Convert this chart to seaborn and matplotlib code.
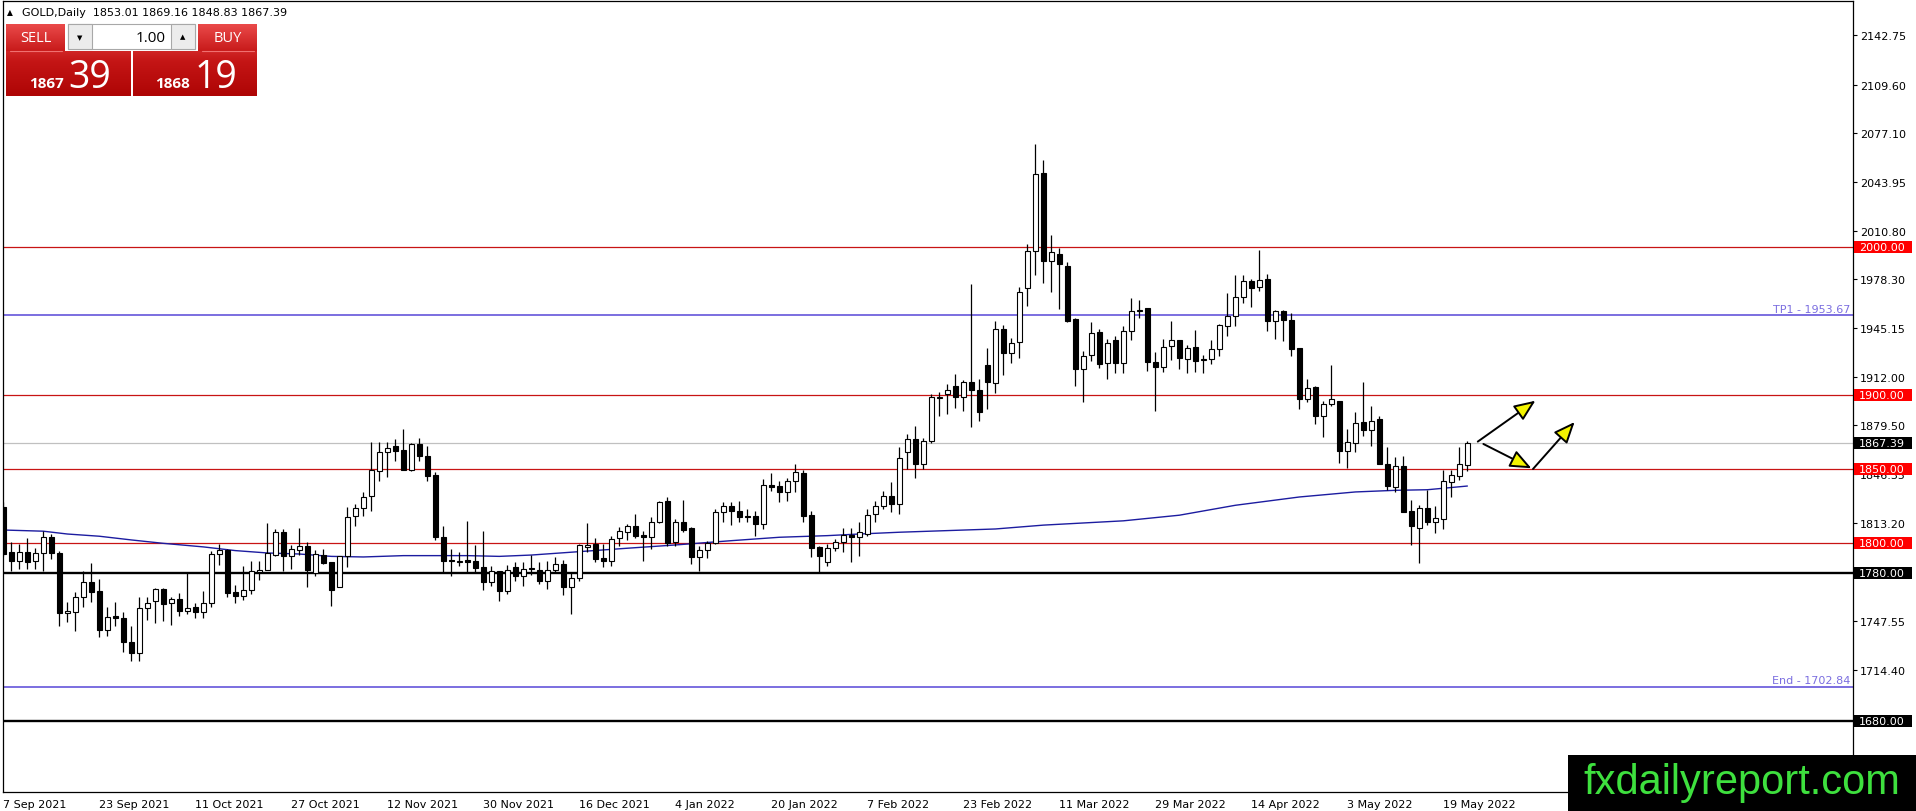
import numpy as np
import pandas as pd
import matplotlib
matplotlib.use('Agg')
import matplotlib.pyplot as plt
import seaborn as sns
from matplotlib.patches import Rectangle, FancyArrowPatch
from matplotlib.colors import LinearSegmentedColormap

# ── 1. DATA ───────────────────────────────────────────────
opens = [1824.2, 1793.8, 1788.1, 1793.8, 1788.1, 1793.3, 1804.3, 1793.1, 1752.6, 1753.3,
         1763.4, 1773.5, 1767.4, 1741.6, 1750.6, 1749.2, 1733.0, 1725.6, 1756.0, 1761.1,
         1769.0, 1759.3, 1762.0, 1754.4, 1756.6, 1753.3, 1759.3, 1792.3, 1795.3, 1766.8,
         1764.1, 1768.6, 1780.7, 1781.9, 1792.0, 1807.3, 1791.5, 1795.3, 1798.0, 1779.8,
         1792.0, 1787.0, 1770.1, 1791.0, 1818.0, 1823.5, 1831.6, 1848.5, 1861.3, 1865.3,
         1862.9, 1849.6, 1866.9, 1858.6, 1846.0, 1803.9, 1788.5, 1787.5, 1788.6, 1787.7,
         1783.6, 1774.0, 1781.0, 1767.9, 1783.6, 1777.6, 1782.5, 1782.1, 1774.6, 1782.1,
         1785.9, 1770.1, 1776.2, 1797.6, 1799.4, 1789.7, 1788.1, 1803.2, 1807.3, 1811.3,
         1805.5, 1803.9, 1814.5, 1828.2, 1800.5, 1814.0, 1810.0, 1790.4, 1795.6, 1800.0,
         1820.8, 1825.3, 1821.9, 1818.5, 1818.5, 1812.9, 1839.5, 1838.8, 1834.3, 1842.2,
         1847.3, 1819.0, 1797.1, 1787.5, 1796.5, 1800.5, 1805.7, 1803.9, 1806.1, 1819.7,
         1825.3, 1832.0, 1826.4, 1861.7, 1870.3, 1853.4, 1869.2, 1897.8, 1900.7, 1905.9,
         1898.4, 1909.0, 1903.6, 1920.3, 1908.3, 1944.5, 1928.4, 1935.8, 1972.0, 1997.3,
         2049.9, 1990.4, 1995.5, 1987.0, 1951.2, 1917.2, 1927.3, 1942.5, 1921.7, 1936.9,
         1921.3, 1943.0, 1957.0, 1958.6, 1922.4, 1919.0, 1932.9, 1937.4, 1924.4, 1932.4,
         1923.3, 1924.4, 1931.1, 1946.3, 1953.0, 1966.0, 1977.2, 1973.2, 1978.1, 1949.7,
         1957.0, 1950.3, 1931.8, 1897.5, 1905.4, 1885.5, 1894.2, 1896.0, 1862.4, 1867.6,
         1881.9, 1876.5, 1883.7, 1853.5, 1837.8, 1851.9, 1821.7, 1810.3, 1823.7, 1814.3,
         1816.1, 1841.2, 1845.6, 1853.01]
highs = [1827.5, 1801.0, 1799.4, 1803.5, 1796.5, 1808.0, 1806.0, 1794.9, 1760.5, 1766.8,
         1781.4, 1786.6, 1775.8, 1756.6, 1760.0, 1753.7, 1744.3, 1763.4, 1763.8, 1769.5,
         1769.5, 1763.8, 1766.1, 1780.0, 1759.6, 1767.9, 1794.9, 1799.4, 1796.0, 1771.7,
         1784.8, 1788.1, 1788.1, 1813.6, 1809.5, 1809.5, 1798.7, 1810.4, 1800.5, 1795.6,
         1796.0, 1787.5, 1791.5, 1824.2, 1826.4, 1834.3, 1868.0, 1868.5, 1868.5, 1870.3,
         1877.0, 1867.4, 1871.0, 1865.3, 1847.8, 1811.8, 1796.0, 1794.2, 1814.7, 1798.7,
         1808.0, 1784.8, 1781.4, 1785.2, 1787.0, 1787.0, 1792.0, 1787.5, 1788.1, 1790.4,
         1788.8, 1779.8, 1799.4, 1813.6, 1803.2, 1799.4, 1805.0, 1810.6, 1812.9, 1819.7,
         1808.4, 1817.4, 1828.7, 1830.9, 1816.3, 1829.1, 1810.6, 1798.3, 1801.6, 1823.0,
         1827.5, 1827.5, 1828.2, 1823.0, 1821.9, 1843.3, 1847.3, 1842.2, 1843.7, 1853.4,
         1849.4, 1821.9, 1798.3, 1799.4, 1802.8, 1810.0, 1810.0, 1814.0, 1823.0, 1828.7,
         1835.4, 1841.0, 1865.1, 1873.7, 1878.9, 1870.7, 1900.7, 1902.3, 1907.4, 1914.2,
         1910.1, 1975.0, 1910.8, 1931.7, 1949.7, 1947.4, 1938.5, 1973.2, 2002.2, 2069.4,
         2058.6, 2008.3, 1998.9, 1989.5, 1951.9, 1929.5, 1949.2, 1944.7, 1937.8, 1939.6,
         1946.8, 1965.3, 1964.2, 1958.6, 1928.9, 1937.8, 1949.7, 1937.4, 1934.0, 1944.1,
         1927.3, 1937.4, 1947.9, 1968.7, 1981.0, 1981.0, 1978.3, 1997.8, 1981.4, 1957.5,
         1957.5, 1955.3, 1931.8, 1911.0, 1906.0, 1896.0, 1919.9, 1896.0, 1877.0, 1888.6,
         1909.0, 1892.6, 1885.9, 1864.7, 1857.9, 1858.6, 1828.9, 1826.0, 1835.6, 1825.0,
         1849.0, 1849.0, 1864.7, 1869.16]
lows = [1791.5, 1781.4, 1782.5, 1782.5, 1782.5, 1781.4, 1789.3, 1744.3, 1746.5, 1740.9,
        1757.1, 1760.5, 1736.8, 1737.5, 1743.8, 1726.7, 1720.6, 1720.6, 1748.1, 1746.1,
        1747.6, 1744.7, 1751.0, 1752.1, 1749.2, 1749.4, 1757.1, 1785.4, 1763.8, 1759.3,
        1761.6, 1765.6, 1775.1, 1781.9, 1791.5, 1781.0, 1782.5, 1792.0, 1770.6, 1778.0,
        1785.9, 1757.8, 1770.1, 1784.1, 1811.8, 1818.5, 1821.9, 1842.2, 1844.4, 1855.7,
        1849.6, 1848.9, 1855.7, 1842.2, 1802.1, 1780.3, 1777.6, 1784.8, 1780.3, 1779.6,
        1768.6, 1771.3, 1761.1, 1765.6, 1774.6, 1771.2, 1778.5, 1772.4, 1769.0, 1780.3,
        1765.0, 1752.1, 1774.6, 1794.2, 1787.5, 1784.1, 1784.8, 1798.3, 1802.3, 1803.2,
        1788.1, 1796.0, 1813.6, 1798.3, 1798.3, 1807.3, 1785.9, 1781.4, 1789.7, 1799.4,
        1814.0, 1812.2, 1814.0, 1814.0, 1805.0, 1809.5, 1835.4, 1828.0, 1828.7, 1834.3,
        1814.5, 1790.4, 1780.3, 1784.8, 1794.9, 1793.8, 1787.5, 1791.5, 1805.0, 1814.5,
        1823.0, 1820.8, 1819.7, 1850.0, 1843.7, 1850.0, 1867.6, 1886.0, 1887.2, 1891.0,
        1889.4, 1878.2, 1882.7, 1890.5, 1901.6, 1913.2, 1921.7, 1925.0, 1960.2, 1981.0,
        1975.4, 1969.8, 1958.2, 1949.0, 1906.0, 1894.9, 1922.8, 1918.3, 1910.5, 1915.0,
        1915.0, 1936.9, 1951.9, 1916.1, 1889.3, 1915.4, 1923.9, 1917.7, 1915.0, 1915.4,
        1915.0, 1920.6, 1926.6, 1939.6, 1946.3, 1962.4, 1959.7, 1970.2, 1943.0, 1938.0,
        1936.2, 1926.2, 1890.8, 1894.9, 1880.3, 1871.4, 1892.2, 1853.9, 1850.6, 1861.3,
        1872.5, 1865.8, 1853.5, 1835.6, 1834.5, 1821.0, 1798.7, 1786.4, 1812.1, 1806.5,
        1809.8, 1831.0, 1842.3, 1848.83]
closes = [1792.6, 1788.1, 1793.8, 1787.0, 1793.1, 1803.9, 1793.1, 1752.6, 1754.0, 1763.4,
          1773.5, 1767.2, 1741.6, 1749.9, 1749.2, 1733.0, 1725.6, 1756.0, 1759.3, 1769.0,
          1758.9, 1762.0, 1754.4, 1756.0, 1753.3, 1759.3, 1792.6, 1795.3, 1766.3, 1764.1,
          1768.6, 1781.0, 1782.1, 1793.1, 1807.3, 1791.5, 1796.0, 1798.0, 1781.9, 1792.6,
          1786.6, 1768.6, 1791.0, 1817.4, 1823.5, 1830.9, 1849.6, 1861.3, 1864.0, 1862.4,
          1849.6, 1866.9, 1858.6, 1845.5, 1803.9, 1788.1, 1788.0, 1788.1, 1787.0, 1783.2,
          1773.5, 1781.0, 1767.9, 1782.1, 1777.6, 1782.5, 1782.7, 1774.6, 1782.1, 1785.9,
          1770.1, 1776.2, 1798.7, 1798.7, 1789.3, 1788.1, 1802.8, 1807.9, 1811.3, 1805.0,
          1803.9, 1814.0, 1827.5, 1800.1, 1814.0, 1809.0, 1790.4, 1795.6, 1800.1, 1820.8,
          1825.3, 1821.9, 1817.4, 1817.4, 1812.9, 1839.5, 1837.7, 1834.3, 1842.2, 1847.8,
          1818.5, 1796.5, 1791.1, 1796.7, 1800.5, 1805.7, 1803.9, 1807.3, 1819.2, 1825.3,
          1832.0, 1826.4, 1857.5, 1870.3, 1853.4, 1869.2, 1898.4, 1898.7, 1903.6, 1898.4,
          1908.6, 1903.6, 1888.8, 1908.6, 1944.5, 1928.0, 1935.1, 1969.8, 1997.3, 2049.2,
          1990.6, 1996.2, 1988.1, 1949.7, 1917.2, 1926.2, 1941.8, 1921.0, 1935.1, 1921.3,
          1943.0, 1957.0, 1957.5, 1922.4, 1919.0, 1932.4, 1936.9, 1925.0, 1931.8, 1922.8,
          1924.4, 1931.1, 1947.4, 1953.0, 1966.0, 1977.2, 1972.5, 1977.6, 1949.7, 1957.0,
          1950.3, 1931.1, 1897.5, 1904.9, 1885.5, 1894.2, 1897.1, 1862.4, 1868.0, 1881.0,
          1876.5, 1882.6, 1853.5, 1838.3, 1851.9, 1821.0, 1811.4, 1823.7, 1814.3, 1816.6,
          1841.8, 1846.1, 1853.5, 1867.39]

date_labels = ['7 Sep 2021', '23 Sep 2021', '11 Oct 2021', '27 Oct 2021', '12 Nov 2021',
               '30 Nov 2021', '16 Dec 2021', '4 Jan 2022', '20 Jan 2022', '7 Feb 2022',
               '23 Feb 2022', '11 Mar 2022', '29 Mar 2022', '14 Apr 2022', '3 May 2022',
               '19 May 2022']

# moving average, sampled along the blue line
ma_bar = [0, 5, 8, 12, 16, 20, 25, 29, 33, 37, 41, 45, 50, 54, 58, 62, 66, 72, 78, 84,
          91, 97, 103, 107, 112, 118, 124, 130, 140, 147, 154, 162, 169, 174, 178, 183]
ma_val = [1808.8, 1808.0, 1806.1, 1804.6, 1802.1, 1799.8, 1797.4, 1794.9, 1793.3, 1792.6,
          1791.0, 1790.6, 1791.5, 1791.5, 1791.5, 1791.0, 1791.9, 1794.2, 1796.5, 1798.7,
          1801.6, 1803.9, 1805.0, 1806.1, 1807.3, 1808.4, 1809.5, 1812.1, 1815.0, 1818.8,
          1825.5, 1831.1, 1834.5, 1835.6, 1836.0, 1838.5]

price_ticks = [2142.75, 2109.60, 2077.10, 2043.95, 2010.80, 1978.30, 1945.15, 1912.00,
               1879.50, 1846.35, 1813.20, 1780.00, 1747.55, 1714.40]

red_levels = [2000.00, 1900.00, 1850.00, 1800.00]
black_levels = [1780.00, 1680.00]
blue_levels = [1953.67, 1702.84]
blue_names = ['TP1', 'End']
bid = 1867.39
ask = 1868.19
header_values = ['1853.01', '1869.16', '1848.83', '1867.39']

# hand-drawn arrows: (start bar, start price, end bar, end price)
arrow_x0 = [184.3, 185.0, 191.2]
arrow_y0 = [1868.5, 1866.9, 1850.0]
arrow_x1 = [191.5, 191.0, 196.4]
arrow_y1 = [1896.1, 1850.5, 1881.7]

# ── 2. SETUP ──────────────────────────────
sns.set_theme(style='white')
plt.rcParams['font.family'] = ['DejaVu Sans']

W, H = 1916, 812
PL, PR, PT, PB = 3, 1853, 2, 793          # plot box in pixels
fig = plt.figure(figsize=(W / 100, H / 100), dpi=100)
fig.patch.set_facecolor('white')
ax = fig.add_axes([PL / W, 1 - PB / H, (PR - PL) / W, (PB - PT) / H])
ax.set_facecolor('white')

df = pd.DataFrame({'open': opens, 'high': highs, 'low': lows, 'close': closes})
df['bar'] = np.arange(len(df))
up = df['close'] >= df['open']

# ── 3. LEVELS + MA ────────────────────────
for lv in red_levels:
    ax.axhline(lv, color='#c81414', lw=0.9, zorder=1)
for lv in black_levels:
    ax.axhline(lv, color='black', lw=1.7, zorder=1)
for lv in blue_levels:
    ax.axhline(lv, color='#7b6ee0', lw=1.4, zorder=1)
ax.axhline(bid, color='#c0c0c0', lw=0.9, zorder=1)

sns.lineplot(x=ma_bar, y=ma_val, ax=ax, color='#1c1ca0', lw=1.0, zorder=2)

# ── 4. CANDLES ────────────────────────────
ax.vlines(df['bar'], df['low'], df['high'], color='black', lw=0.9, zorder=3)
body_lo = df[['open', 'close']].min(axis=1)
body_h = (df['close'] - df['open']).abs().clip(lower=0.5)
ax.bar(df['bar'], body_h, bottom=body_lo, width=0.56,
       color=np.where(up, 'white', 'black'), edgecolor='black', linewidth=0.8, zorder=4)

for sx, sy, ex, ey in zip(arrow_x0, arrow_y0, arrow_x1, arrow_y1):
    ax.add_patch(FancyArrowPatch((sx, sy), (ex, ey),
                                 arrowstyle='-|>,head_length=1.0,head_width=0.42',
                                 mutation_scale=13, facecolor='#f4f400', edgecolor='black',
                                 lw=1.4, shrinkA=0, shrinkB=0, zorder=6))

# ── 5. AXES ───────────────────────────────
ax.set_xlim(-0.04, 231.2)
ax.set_ylim(1631.9, 2166.0)
ax.yaxis.tick_right()
ax.set_yticks(price_ticks)
ax.set_yticklabels([f'{p:.2f}' for p in price_ticks])
ax.set_xticks(range(0, 12 * len(date_labels), 12))
ax.set_xticklabels(date_labels, ha='left')
ax.tick_params(axis='both', direction='out', length=3, width=0.8, color='black',
               labelsize=8, labelcolor='black', pad=2)
ax.set_xlabel('')
ax.set_ylabel('')
for s in ax.spines.values():
    s.set_color('black')
    s.set_linewidth(0.9)

# price tags on the right scale
ppx = (PB - PT) / (2166.0 - 1631.9)       # pixels per dollar
tag_w = 58 / (PR - PL)
tag_h = 12 / ppx
yt = ax.get_yaxis_transform()
tags = [(lv, '#ff0000') for lv in red_levels] + [(lv, 'black') for lv in black_levels] + [(bid, 'black')]
for lv, col in tags:
    ax.add_patch(Rectangle((1.0 + 1 / (PR - PL), lv - tag_h / 2), tag_w, tag_h, transform=yt,
                           facecolor=col, edgecolor='none', clip_on=False, zorder=7))
    ax.text(1.0 + 6 / (PR - PL), lv, f'{lv:.2f}', transform=yt, ha='left', va='center',
            color='white', fontsize=8, clip_on=False, zorder=8)

for lv, name in zip(blue_levels, blue_names):
    ax.text(1.0 - 3 / (PR - PL), lv + 1.2, f'{name} - {lv:.2f}', transform=yt,
            ha='right', va='bottom', color='#7b6ee0', fontsize=8, zorder=5)

# ── 6. TRADE PANEL / HEADER / LOGO ────────
ov = fig.add_axes([0, 0, 1, 1], zorder=10)
ov.set_axis_off()
ov.patch.set_alpha(0)

ov.text(7, 13, '▲', fontsize=5.5, ha='left', va='center', color='black')
ov.text(22, 13, 'GOLD,Daily  ' + ' '.join(header_values), fontsize=8, ha='left',
        va='center', color='black')

red_cm = LinearSegmentedColormap.from_list('panel', ['#ea4a4a', '#c41515', '#ae0505'])
grad = np.linspace(0, 1, 64).reshape(-1, 1)


def red_box(x0, x1, y0, y1, lo=0.0, hi=1.0):
    ov.imshow(grad * (hi - lo) + lo, cmap=red_cm, vmin=0, vmax=1, extent=(x0, x1, y1, y0),
              aspect='auto', interpolation='bilinear', zorder=1)


red_box(6, 65, 25, 52, 0.0, 0.45)
red_box(198, 257, 25, 52, 0.0, 0.45)
red_box(6, 131, 52, 97, 0.35, 1.0)
red_box(133, 257, 52, 97, 0.35, 1.0)
ov.plot([10, 62], [52, 52], color='#f07070', lw=0.8, zorder=2)
ov.plot([202, 254], [52, 52], color='#f07070', lw=0.8, zorder=2)

ov.text(36, 38, 'SELL', fontsize=10.5, color='white', ha='center', va='center',
        family='Open Sans', zorder=3)
ov.text(228, 38, 'BUY', fontsize=10.5, color='white', ha='center', va='center',
        family='Open Sans', zorder=3)

ov.add_patch(Rectangle((68, 25), 127, 25, facecolor='white', edgecolor='#a8a8a8', lw=0.8, zorder=1))
ov.add_patch(Rectangle((68, 25), 24, 25, facecolor='#ececec', edgecolor='#a8a8a8', lw=0.8, zorder=2))
ov.add_patch(Rectangle((171, 25), 24, 25, facecolor='#ececec', edgecolor='#a8a8a8', lw=0.8, zorder=2))
ov.text(80, 38, '▼', fontsize=5, ha='center', va='center', color='black', zorder=3)
ov.text(183, 37, '▲', fontsize=5, ha='center', va='center', color='black', zorder=3)
ov.text(166, 38, '1.00', fontsize=11, ha='right', va='center', color='black',
        family='Open Sans', zorder=3)

ov.text(64, 88, f'{bid:.2f}'[:4], fontsize=11, weight='bold', color='white', ha='right',
        va='baseline', family='Open Sans', zorder=3)
ov.text(68, 88, f'{bid:.2f}'[5:], fontsize=27, color='white', ha='left', va='baseline',
        family='Open Sans', zorder=3)
ov.text(190, 88, f'{ask:.2f}'[:4], fontsize=11, weight='bold', color='white', ha='right',
        va='baseline', family='Open Sans', zorder=3)
ov.text(195, 88, f'{ask:.2f}'[5:], fontsize=27, color='white', ha='left', va='baseline',
        family='Open Sans', zorder=3)

ov.add_patch(Rectangle((1568, 756), W - 1568, H - 756, facecolor='black', edgecolor='none', zorder=4))
ov.text(1742, 783, 'fxdailyreport.com', fontsize=30, color='#3ee03e', ha='center',
        va='center', family='Liberation Sans', zorder=5)

ov.set_xlim(0, W)
ov.set_ylim(H, 0)

plt.savefig('out.png', dpi=100)
print("Chart saved!")
